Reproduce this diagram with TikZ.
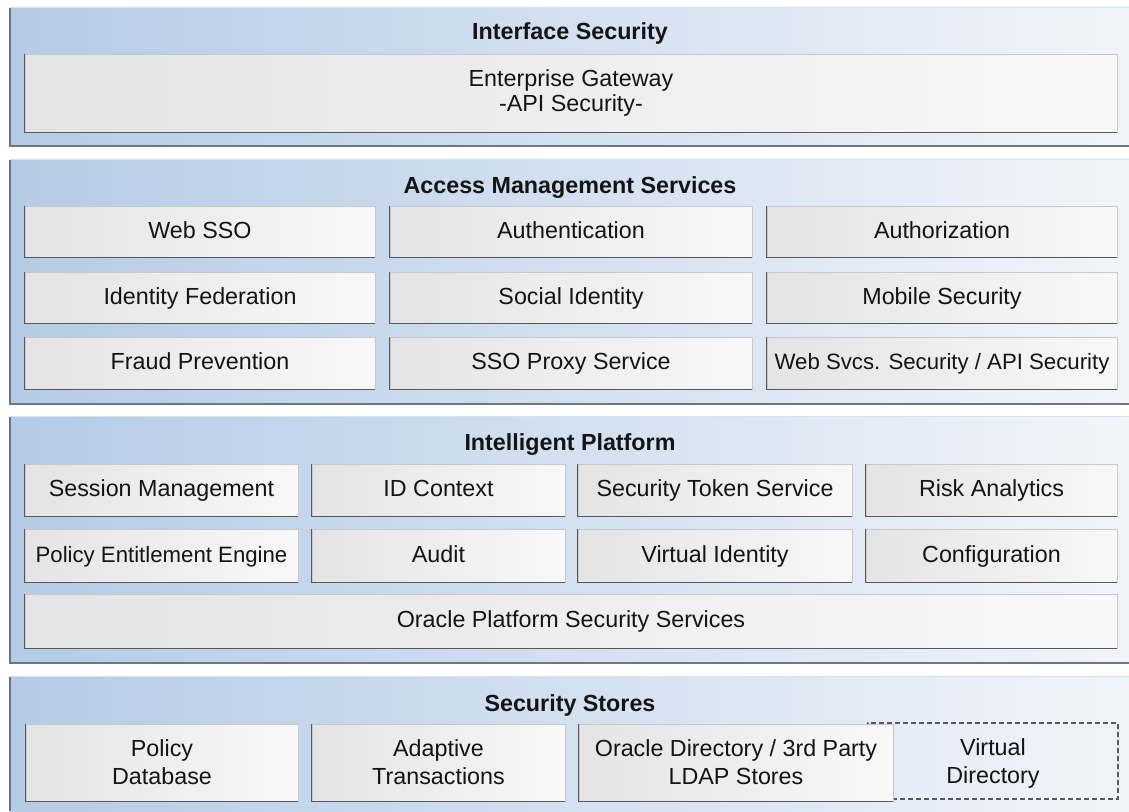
\documentclass[tikz,border=0pt]{standalone}
\usepackage{fontspec}
\setmainfont{Liberation Sans}
\definecolor{panelL}{RGB}{180,203,230}
\definecolor{panelR}{RGB}{241,245,250}
\definecolor{boxL}{RGB}{228,228,228}
\definecolor{boxR}{RGB}{248,248,248}
\definecolor{boxline}{RGB}{200,200,200}
\definecolor{boxshade}{RGB}{85,88,92}
\definecolor{paneledge}{RGB}{110,118,128}
\definecolor{paneltop}{RGB}{214,226,240}
\definecolor{txt}{RGB}{20,20,20}
\begin{document}
\begin{tikzpicture}[x=1pt,y=-1pt,
  panel/.style={left color=panelL, right color=panelR, draw=none, inner sep=0pt},
  pedge/.style={draw=paneledge, line width=1.8pt},
  ptop/.style={draw=paneltop, line width=1.2pt},
  box/.style={draw=boxline, line width=0.8pt, left color=boxL, right color=boxR,
    inner sep=0pt, align=center, text=txt, font=\fontsize{23.3}{28}\selectfont},
  one/.style={text height=16.5pt, text depth=3pt},
  small/.style={font=\fontsize{22.2}{26}\selectfont},
  tight/.style={font=\fontsize{23.3}{25}\selectfont},
  bshadow/.style={draw=boxshade, line width=1.6pt},
  ttl/.style={anchor=base, text=txt, font=\fontsize{23.3}{28}\selectfont\bfseries},
  dashbox/.style={draw=boxshade, line width=1.1pt, dash pattern=on 5pt off 3pt,
    inner sep=0pt, align=center, text=txt, font=\fontsize{23.3}{28}\selectfont}
]
\useasboundingbox (0,0) rectangle (1129,811);
\fill[white] (0,0) rectangle (1129,811);

% ---------- panels ----------
\node[panel, minimum width=1119pt, minimum height=138pt] (p1) at (569.5,77) {};
\node[panel, minimum width=1119pt, minimum height=244pt] (p2) at (569.5,282) {};
\node[panel, minimum width=1119pt, minimum height=246pt] (p3) at (569.5,540) {};
\node[panel, minimum width=1119pt, minimum height=134pt] (p4) at (569.5,744) {};
\foreach \p in {p1,p2,p3}{
  \draw[ptop] (\p.north west) -- (\p.north east);
  \draw[pedge] (\p.north west) -- (\p.south west) -- (\p.south east);
}
\draw[ptop] (p4.north west) -- (p4.north east);
\draw[pedge] (p4.north west) -- (p4.south west);

% ---------- titles ----------
\node[ttl] (t1) at (570,39) {Interface Security};
\node[ttl] (t2) at (570,193) {Access Management Services};
\node[ttl] (t3) at (570,450) {Intelligent Platform};
\node[ttl] (t4) at (570,711) {Security Stores};

% ---------- Interface Security ----------
\node[box, tight, minimum width=1092pt, minimum height=78pt] (eg) at (571,93)
  {Enterprise Gateway\\-API Security-};

% ---------- Access Management Services ----------
\node[box, one, minimum width=350pt, minimum height=51pt] (websso) at (200,231.5) {Web SSO};
\node[box, one, minimum width=362pt, minimum height=51pt] (authn) at (571,231.5) {Authentication};
\node[box, one, minimum width=350pt, minimum height=51pt] (authz) at (942,231.5) {Authorization};
\node[box, one, minimum width=350pt, minimum height=51pt] (idfed) at (200,297.5) {Identity Federation};
\node[box, one, minimum width=362pt, minimum height=51pt] (social) at (571,297.5) {Social Identity};
\node[box, one, minimum width=350pt, minimum height=51pt] (mobile) at (942,297.5) {Mobile Security};
\node[box, one, minimum width=350pt, minimum height=52pt] (fraud) at (200,363) {Fraud Prevention};
\node[box, one, minimum width=362pt, minimum height=52pt] (proxy) at (571,363) {SSO Proxy Service};
\node[box, one, small, minimum width=350pt, minimum height=52pt] (websvc) at (942,363) {Web Svcs. Security / API Security};

% ---------- Intelligent Platform ----------
\node[box, one, minimum width=273pt, minimum height=52pt] (sess) at (161.5,490) {Session Management};
\node[box, one, minimum width=253pt, minimum height=52pt] (idctx) at (438.5,490) {ID Context};
\node[box, one, minimum width=274pt, minimum height=52pt] (sts) at (715,490) {Security Token Service};
\node[box, one, minimum width=251pt, minimum height=52pt] (risk) at (991.5,490) {Risk Analytics};
\node[box, one, small, minimum width=273pt, minimum height=53pt] (pee) at (161.5,555.5) {Policy Entitlement Engine};
\node[box, one, minimum width=253pt, minimum height=53pt] (audit) at (438.5,555.5) {Audit};
\node[box, one, minimum width=274pt, minimum height=53pt] (vid) at (715,555.5) {Virtual Identity};
\node[box, one, minimum width=251pt, minimum height=53pt] (conf) at (991.5,555.5) {Configuration};
\node[box, one, minimum width=1092pt, minimum height=54pt] (opss) at (571,621) {Oracle Platform Security Services};

% ---------- Security Stores ----------
\node[dashbox, minimum width=250pt, minimum height=76pt] (vdir) at (993,761) {};
\node[text=txt, align=center, font=\fontsize{23.3}{28}\selectfont] (vdirtext) at (993,763.5) {Virtual\\Directory};
\node[box, minimum width=272pt, minimum height=77pt] (poldb) at (162,762.5) {Policy\\Database};
\node[box, minimum width=253pt, minimum height=77pt] (adapt) at (438.5,762.5) {Adaptive\\Transactions};
\node[box, minimum width=314pt, minimum height=77pt] (oradir) at (736,762.5) {Oracle Directory / 3rd Party\\LDAP Stores};

% ---------- box shadows (left and bottom edges) ----------
\foreach \b in {eg,websso,authn,authz,idfed,social,mobile,fraud,proxy,websvc,
                sess,idctx,sts,risk,pee,audit,vid,conf,opss,poldb,adapt,oradir}{
  \draw[bshadow] (\b.north west) -- (\b.south west) -- (\b.south east);
}
\end{tikzpicture}
\end{document}
